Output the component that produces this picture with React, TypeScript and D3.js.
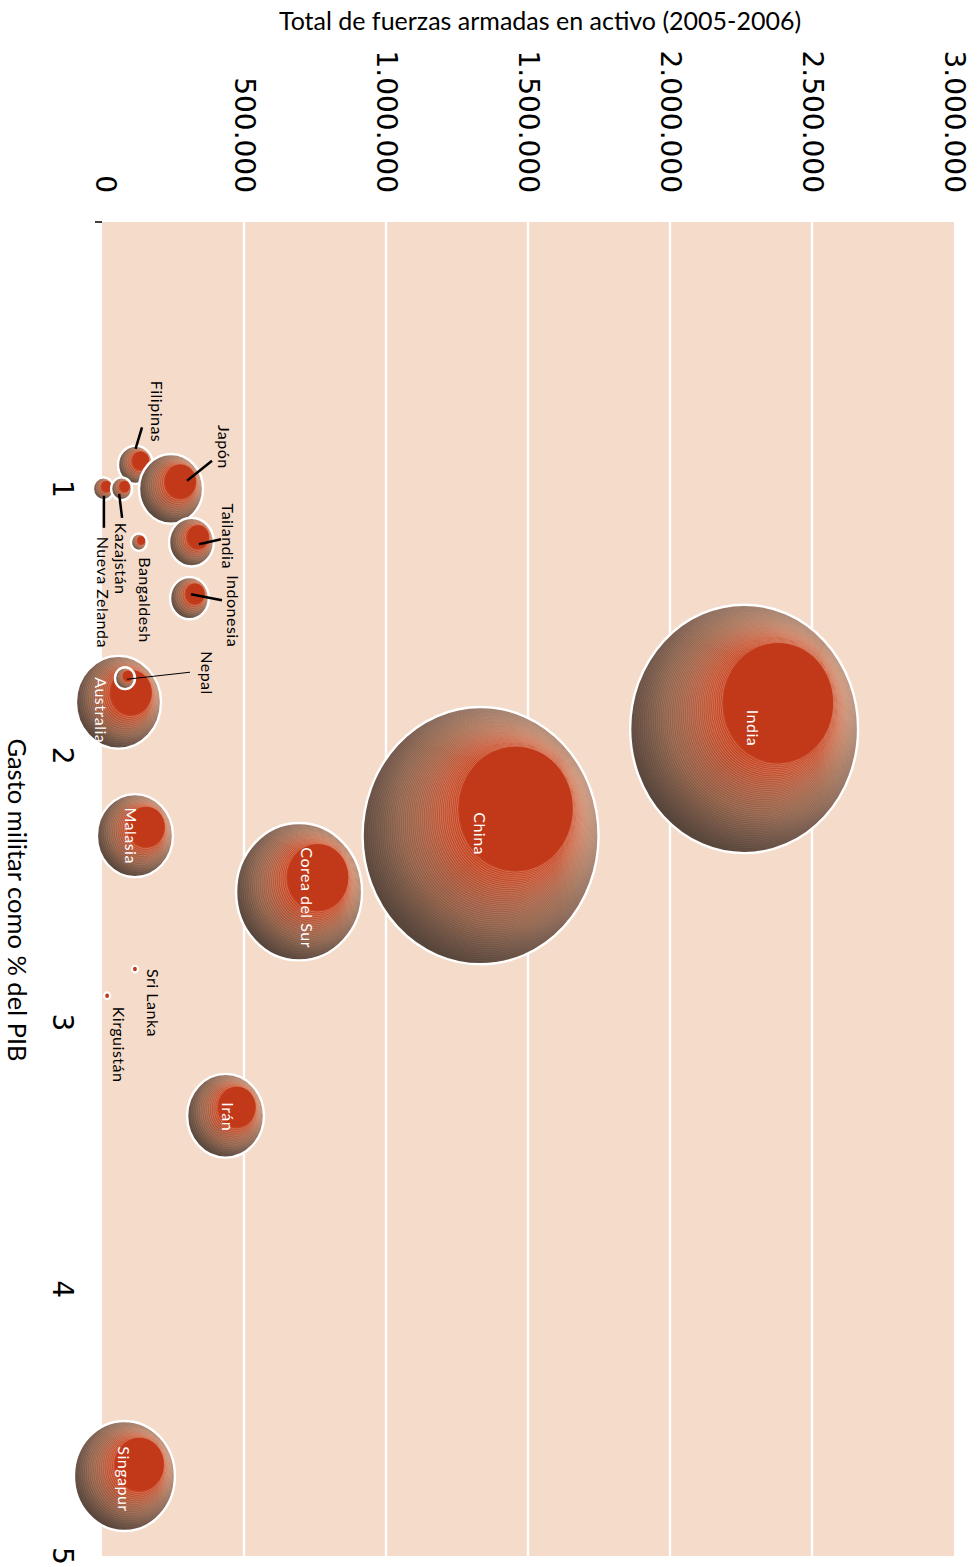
import React from "react";
import * as d3 from "d3";

// ---- Data ----
const countries = ["India","China","Corea del Sur","Irán","Singapur","Malasia","Australia","Nepal","Sri Lanka","Kirguistán","Filipinas","Japón","Nueva Zelanda","Kazajstán","Bangaldesh","Tailandia","Indonesia"];
// Total de fuerzas armadas en activo
const fuerzas = [2261000,1333000,694000,435000,79000,116000,58000,81000,116000,18000,118000,243000,5000,69000,130000,315000,308000];
// Gasto militar como % del PIB
const gastoPIB = [1.90,2.30,2.51,3.35,4.70,2.30,1.80,1.71,2.80,2.90,0.91,1.00,1.00,1.00,1.20,1.20,1.41];
// Tamaño de burbuja (unidades relativas)
const tamano = [93.3,100,28.5,10.6,18.3,10.4,13.0,0.72,0.065,0.065,2.2,7.35,0.79,0.79,0.46,3.6,2.7];

const fuerzasTicks = [0,500000,1000000,1500000,2000000,2500000,3000000];
const fuerzasTickLabels = ["0","500.000","1.000.000","1.500.000","2.000.000","2.500.000","3.000.000"];
const gastoTicks = [1,2,3,4,5];
const gastoTickLabels = ["1","2","3","4","5"];

const titleTop = "Total de fuerzas armadas en activo (2005-2006)";
const titleSide = "Gasto militar como % del PIB";

// ---- Label layout (offsets from bubble centre, px) ----
type Lab = { kind: "in" | "out"; dx: number; dy: number; anchor: string; line?: [number, number, number, number]; lw?: number };
const labelLayout: Record<string, Lab> = {
  "India": { kind: "in", dx: 9, dy: -1, anchor: "middle" },
  "China": { kind: "in", dx: 0, dy: -2, anchor: "middle" },
  "Corea del Sur": { kind: "in", dx: 8, dy: 6, anchor: "middle" },
  "Irán": { kind: "in", dx: 3, dy: 1, anchor: "middle" },
  "Singapur": { kind: "in", dx: 0, dy: 3, anchor: "middle" },
  "Malasia": { kind: "in", dx: -3, dy: 0, anchor: "middle" },
  "Australia": { kind: "in", dx: -17, dy: 8, anchor: "middle" },
  "Nepal": { kind: "out", dx: 82, dy: -27, anchor: "start", line: [2, 1, 65, -6], lw: 1 },
  "Sri Lanka": { kind: "out", dx: 19, dy: 0, anchor: "start" },
  "Kirguistán": { kind: "out", dx: 12, dy: 11, anchor: "start" },
  "Filipinas": { kind: "out", dx: 21.5, dy: -22.5, anchor: "end", line: [0, -16, 6.5, -37.5], lw: 2.5 },
  "Japón": { kind: "out", dx: 53, dy: -20, anchor: "end", line: [16, -8, 41, -28], lw: 2.5 },
  "Nueva Zelanda": { kind: "out", dx: 0.5, dy: 48, anchor: "start", line: [0.5, 7, 0.5, 39], lw: 2.5 },
  "Kazajstán": { kind: "out", dx: -0.5, dy: 34, anchor: "start", line: [-2.5, 5, 0.5, 29], lw: 2.5 },
  "Bangaldesh": { kind: "out", dx: 7, dy: 15, anchor: "start" },
  "Tailandia": { kind: "out", dx: 37.5, dy: -6, anchor: "middle", line: [7.5, 2, 29.5, -3], lw: 2.5 },
  "Indonesia": { kind: "out", dx: 44.5, dy: 13, anchor: "middle", line: [1.5, -4, 32.5, 2], lw: 2.5 },
};

const W = 980, H = 1567;
const plot = { left: 102, right: 954, top: 222, bottom: 1556 };

const x = d3.scaleLinear().domain([0, 3000000]).range([plot.left, plot.right]);
const y = d3.scaleLinear().domain([0, 5]).range([plot.top, plot.bottom]);
const r = d3.scaleSqrt().domain([0, 100]).range([0, 118]);
const ASPECT = 1.09;

const shade = d3.interpolateRgbBasis(["#9a7060", "#a6735a", "#b07050", "#ba6446", "#c2502e", "#c43e1d"]);
const CORE = "#c2391a";

function Bubble({ id, cx, cy, rx }: { id: string; cx: number; cy: number; rx: number }) {
  const ry = rx * ASPECT;
  if (rx < 5) {
    return <ellipse cx={cx} cy={cy} rx={rx} ry={ry} fill={CORE} stroke="#fff" strokeWidth={2.2} />;
  }
  const n = Math.max(5, Math.round(rx / 2.3));
  const ox = 0.3 * rx, oy = -0.21 * ry, k = 0.48;
  const hx = cx + ox, hy = cy + oy;
  const rings = d3.range(n).map((i) => {
    const t = i / n;
    const s = 1 - t * (1 - k);
    return { t, cx: cx + ox * t, cy: cy + oy * t, rx: rx * s, ry: ry * s };
  });
  return (
    <g>
      <defs>
        <radialGradient id={id} gradientUnits="userSpaceOnUse" cx={hx} cy={hy} r={rx * 1.38}>
          <stop offset="0.42" stopColor="#45382f" stopOpacity={0} />
          <stop offset="0.72" stopColor="#45382f" stopOpacity={0.3} />
          <stop offset="1" stopColor="#45382f" stopOpacity={0.8} />
        </radialGradient>
      </defs>
      {rings.map((g, i) => (
        <ellipse key={i} cx={g.cx} cy={g.cy} rx={g.rx} ry={g.ry} fill={shade(g.t)}
          stroke="#f8d8c4" strokeOpacity={0.5} strokeWidth={0.6} />
      ))}
      <ellipse cx={hx} cy={hy} rx={rx * k} ry={ry * k} fill={CORE} />
      <ellipse cx={cx} cy={cy} rx={rx} ry={ry} fill={`url(#${id})`} />
      <ellipse cx={cx} cy={cy} rx={rx} ry={ry} fill="none" stroke="#fff" strokeWidth={2.4} />
    </g>
  );
}

export default function App() {
  const items = countries.map((c, i) => ({
    name: c,
    cx: x(fuerzas[i]),
    cy: y(gastoPIB[i]),
    rx: r(tamano[i]),
  }));
  const tickFont = "'DejaVu Sans', sans-serif";
  const labFont = "Lato, 'Open Sans', sans-serif";
  return (
    <svg width={W} height={H} viewBox={`0 0 ${W} ${H}`} style={{ position: "absolute", left: 0, top: 0, background: "#fff" }}>
      <rect x={plot.left} y={plot.top} width={plot.right - plot.left} height={plot.bottom - plot.top} fill="#f4dbca" />
      {fuerzasTicks.slice(1, -1).map((t) => (
        <line key={t} x1={x(t)} x2={x(t)} y1={plot.top} y2={plot.bottom} stroke="#fff" strokeWidth={2.4} />
      ))}
      <line x1={plot.left - 7} x2={plot.left} y1={plot.top} y2={plot.top} stroke="#000" strokeWidth={1.5} />
      {fuerzasTicks.map((t, i) => (
        <text key={t} transform={`translate(${x(t) + (i === 0 ? 3 : 0)},193) rotate(90)`} textAnchor="end"
          dominantBaseline="central" fontFamily={tickFont} fontSize={28} fill="#000">
          {fuerzasTickLabels[i]}
        </text>
      ))}
      {gastoTicks.map((t, i) => (
        <text key={t} transform={`translate(62,${y(t)}) rotate(90)`} textAnchor="middle"
          dominantBaseline="central" fontFamily={tickFont} fontSize={28} fill="#000">
          {gastoTickLabels[i]}
        </text>
      ))}
      <text x={540} y={30} textAnchor="middle" fontFamily={labFont} fontSize={25} fill="#000">{titleTop}</text>
      <text transform={`translate(18,900) rotate(90)`} textAnchor="middle" dominantBaseline="central"
        fontFamily={labFont} fontSize={25.5} fill="#000">{titleSide}</text>

      {items.map((d, i) => (
        <Bubble key={d.name} id={`bg${i}`} cx={d.cx} cy={d.cy} rx={d.rx} />
      ))}

      {items.map((d) => {
        const L = labelLayout[d.name];
        if (!L) return null;
        return (
          <g key={"l" + d.name}>
            {L.line && (
              <line x1={d.cx + L.line[0]} y1={d.cy + L.line[1]} x2={d.cx + L.line[2]} y2={d.cy + L.line[3]}
                stroke="#000" strokeWidth={L.lw} />
            )}
            <text transform={`translate(${d.cx + L.dx},${d.cy + L.dy}) rotate(90)`} textAnchor={L.anchor}
              dominantBaseline="central" fontFamily={labFont} fontSize={16} letterSpacing={0.5}
              fill={L.kind === "in" ? "#fff" : "#000"}>
              {d.name}
            </text>
          </g>
        );
      })}
    </svg>
  );
}
